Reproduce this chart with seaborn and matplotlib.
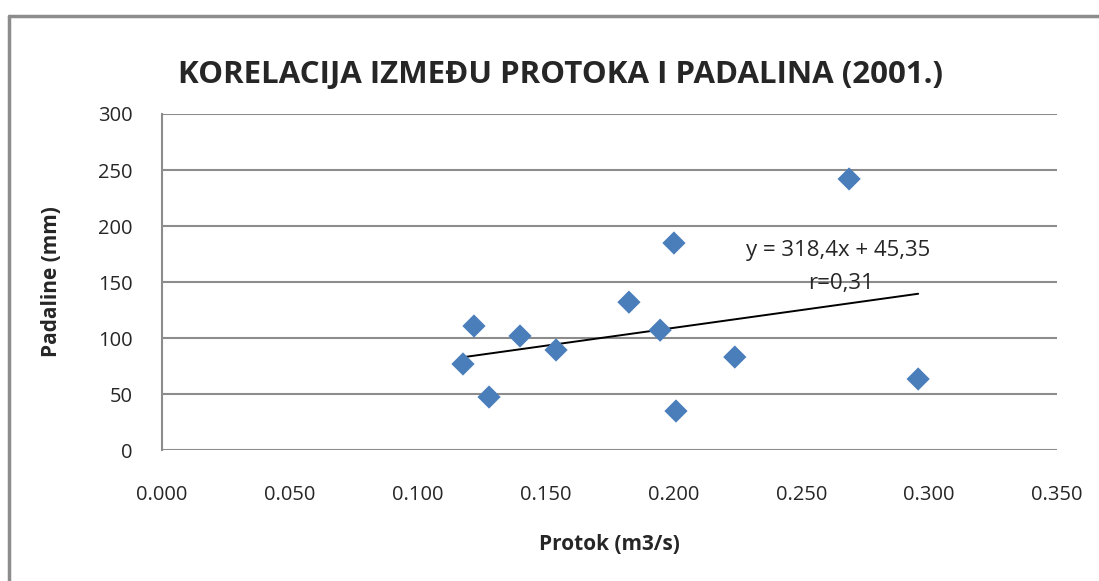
import matplotlib
matplotlib.use("Agg")
import matplotlib.pyplot as plt
import seaborn as sns
import pandas as pd
import numpy as np
from matplotlib.lines import Line2D

protok = [0.1177, 0.1220, 0.1279, 0.1400, 0.1541, 0.1826, 0.1948, 0.2002, 0.2010, 0.2240, 0.2687, 0.2957]
padaline = [76.8, 110.7, 47.3, 101.8, 89.3, 132.0, 107.0, 184.8, 34.8, 83.0, 242.0, 63.4]
slope = 318.4
intercept = 45.35
eq_label = "y = 318,4x + 45,35"
r_label = "r=0,31"
title = "KORELACIJA IZMEĐU PROTOKA I PADALINA (2001.)"
x_ticks = [0.0, 0.05, 0.10, 0.15, 0.20, 0.25, 0.30, 0.35]
y_ticks = [0, 50, 100, 150, 200, 250, 300]

df = pd.DataFrame({"Protok": protok, "Padaline": padaline})

sns.set_style("white")
plt.rcParams['font.family'] = ['Open Sans', 'DejaVu Sans']

fig = plt.figure(figsize=(10.99, 5.81), dpi=100)
ax = fig.add_axes([162/1099, 1-450/581, (1057-162)/1099, (450-114)/581])

for yt in y_ticks:
    ax.axhline(yt, color="#8c8c8c", lw=1.5, zorder=0)

sns.scatterplot(data=df, x="Protok", y="Padaline", marker="D", s=140,
                color="#4a7ebb", edgecolor="none", ax=ax, zorder=3)

xl = np.array([min(protok), max(protok)])
ax.plot(xl, slope * xl + intercept, color="black", lw=1.4, zorder=2)

ax.text(0.2644, 178, eq_label, ha="center", va="center", fontsize=16)
ax.text(0.2655, 149, r_label, ha="center", va="center", fontsize=16)

ax.set_xlim(0, 0.35)
ax.set_ylim(0, 300)
ax.set_xticks(x_ticks)
ax.set_xticklabels([f"{v:.3f}" for v in x_ticks])
ax.set_yticks(y_ticks)
ax.tick_params(axis="both", length=0, labelsize=14.5)
ax.tick_params(axis="x", pad=25)
ax.tick_params(axis="y", pad=21)
for s in ["top", "right", "bottom"]:
    ax.spines[s].set_visible(False)
ax.spines["left"].set_color("#8c8c8c")
ax.spines["left"].set_linewidth(1.5)

ax.set_xlabel("Protok (m3/s)", fontsize=15, fontweight="bold", labelpad=21)
ax.set_ylabel("Padaline (mm)", fontsize=15, fontweight="bold", labelpad=26)

fig.text(561/1099, 1-75/581, title, ha="center", va="center", fontsize=22.5, fontweight="bold")

fig.add_artist(Line2D([9/1099, 9/1099], [0, 1-16/581], color="#8c8c8c", lw=2.5))
fig.add_artist(Line2D([9/1099, 1], [1-16/581, 1-16/581], color="#8c8c8c", lw=2.5))

fig.savefig("out.png", dpi=100)
